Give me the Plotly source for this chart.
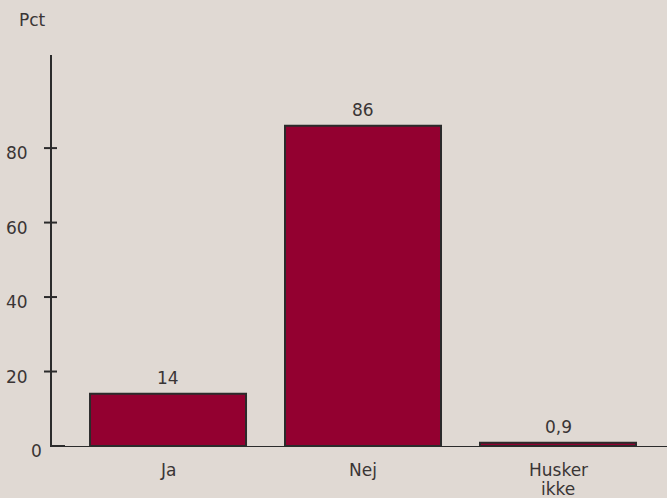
import plotly.graph_objects as go

# Survey answers (percent)
categories = ["Ja", "Nej", "Husker ikke"]
values = [14, 86, 0.9]
y_ticks = [0, 20, 40, 60, 80]

BG = "#e0d9d3"
INK = "#3a3535"
BAR = "#930030"
EDGE = "#2b2b2b"
FONT = "DejaVu Sans"
FS = 17

W, H = 667, 498
L, R, T, B = 52, 0, 55, 52
plot_w = W - L - R
plot_h = H - T - B


def fmt(v):
    return f"{v:g}".replace(".", ",")


def px_x(p):
    """horizontal pixel -> paper x"""
    return (p - L) / plot_w


def px_y(p):
    """vertical pixel -> paper y"""
    return (H - B - p) / plot_h


font = dict(family=FONT, size=FS, color=INK)

fig = go.Figure(
    go.Bar(
        x=list(range(len(categories))),
        y=values,
        width=0.8,
        marker=dict(color=BAR, line=dict(color=EDGE, width=2)),
        hoverinfo="skip",
    )
)

# value labels above the bars
for i, v in enumerate(values):
    fig.add_annotation(
        x=i, y=v, xref="x", yref="y", text=fmt(v), showarrow=False,
        yanchor="middle", yshift=16, font=font,
    )

# category labels, one annotation per line for a tight line spacing
for i, name in enumerate(categories):
    for k, line in enumerate(name.split(" ")):
        fig.add_annotation(
            x=i, y=px_y(470 + 18.5 * k), xref="x", yref="paper", text=line,
            showarrow=False, xanchor="center", yanchor="middle", font=font,
        )

# y tick labels; the zero label sits closer to the axis
for v in y_ticks:
    if v == 0:
        fig.add_annotation(
            x=px_x(36.5), y=v, xref="paper", yref="y", text=str(v),
            showarrow=False, xanchor="center", yanchor="middle", yshift=-5, font=font,
        )
    else:
        fig.add_annotation(
            x=px_x(30), y=v, xref="paper", yref="y", text=str(v),
            showarrow=False, xanchor="right", yanchor="middle", yshift=-5, font=font,
        )

# tick marks crossing the y axis
for v in y_ticks[1:]:
    fig.add_shape(
        type="line", xref="paper", yref="y",
        x0=px_x(44), x1=px_x(57), y0=v, y1=v,
        line=dict(color=EDGE, width=2),
    )
# heavier stub at the origin
fig.add_shape(
    type="line", xref="paper", yref="y",
    x0=0, x1=px_x(65), y0=0, y1=0,
    line=dict(color=EDGE, width=2),
)

# axis unit
fig.add_annotation(
    x=px_x(17), y=px_y(20), xref="paper", yref="paper",
    text="Pct", showarrow=False, xanchor="left", yanchor="middle", font=font,
)

fig.update_layout(
    width=W, height=H,
    margin=dict(l=L, r=R, t=T, b=B, pad=0),
    paper_bgcolor=BG, plot_bgcolor=BG,
    showlegend=False,
    font=font,
    xaxis=dict(
        range=[-0.595, 2.559], showticklabels=False,
        showgrid=False, zeroline=False, showline=True, linecolor=EDGE, linewidth=1,
        ticks="", fixedrange=True,
    ),
    yaxis=dict(
        range=[0, 105], showticklabels=False,
        showgrid=False, zeroline=False, showline=True, linecolor=EDGE, linewidth=2,
        ticks="", fixedrange=True,
    ),
)

fig.write_html("out.html", config={"displayModeBar": False})
